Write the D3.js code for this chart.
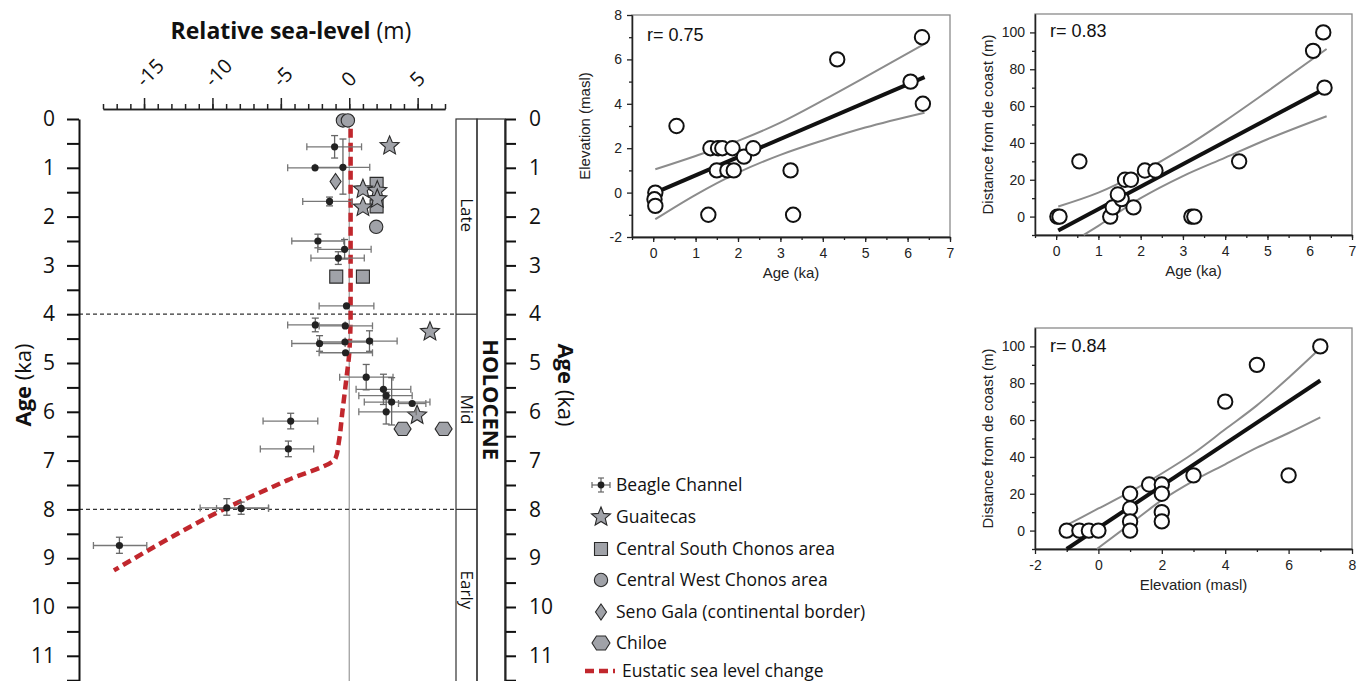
<!DOCTYPE html>
<html><head><meta charset="utf-8">
<script src="https://cdn.jsdelivr.net/npm/d3@7"></script>
<style>
body{margin:0;background:#fff;}
svg{display:block;}
</style></head>
<body>
<script>
// ---------- Left panel data ----------
const rslTicksMajor = [-15,-10,-5,0,5];
const ageTicks = [0,1,2,3,4,5,6,7,8,9,10,11];
const beagleRsl    = [-1.07,-2.5,-0.46,-1.44,-2.29,-0.34,-0.8,-0.2,-2.48,-0.29,-2.17,-0.31,1.48,-0.27,1.24,2.5,2.7,3.1,4.6,2.7,-4.28,-4.45,-8.95,-7.9,-16.8];
const beagleAge    = [0.57,1.0,0.99,1.69,2.5,2.67,2.85,3.83,4.22,4.24,4.6,4.57,4.55,4.79,5.29,5.54,5.67,5.8,5.83,6.0,6.19,6.76,7.97,7.98,8.74];
const beagleRslMin = [-3.1,-4.5,-2.5,-3.4,-4.2,-2.3,-2.8,-2.2,-4.5,-2.2,-4.2,-2.3,-0.3,-2.2,-0.7,0.5,0.7,1.1,3.6,0.7,-6.3,-6.5,-10.9,-9.7,-18.7];
const beagleRslMax = [0.9,-0.5,1.5,0.2,-0.4,1.6,1.1,1.8,-0.3,1.7,-0.3,1.7,3.5,1.7,3.2,4.5,4.6,5.9,5.6,4.9,-2.3,-2.6,-5.9,-5.9,-14.8];
const beagleAgeMin = [0.34,0.97,0.41,1.6,2.36,2.47,2.72,3.8,4.08,4.21,4.44,4.54,4.34,4.76,5.03,5.23,5.6,5.3,5.8,5.75,6.03,6.6,7.78,7.85,8.57];
const beagleAgeMax = [0.8,1.03,1.54,1.78,2.64,2.87,2.98,3.86,4.36,4.27,4.76,4.6,4.76,4.82,5.55,5.85,5.74,6.27,5.86,6.25,6.35,6.92,8.12,8.1,8.9];
const guaitecasRsl = [2.95,1.0,2.05,2.05,1.0,5.9,4.96];
const guaitecasAge = [0.55,1.44,1.47,1.64,1.81,4.36,6.07];
const centralSouthRsl = [2.0,2.0,-0.95,1.0];
const centralSouthAge = [1.33,1.79,3.23,3.23];
const centralWestRsl = [-0.46,-0.1,1.97];
const centralWestAge = [0.03,0.03,2.21];
const senoGalaRsl = [-1.0];
const senoGalaAge = [1.28];
const chiloeRsl = [3.9,6.9];
const chiloeAge = [6.35,6.35];
const eustaticRsl = [0.1,0.1,0.0,-0.2,-0.5,-0.75,-1.0,-4.5,-9.2,-13.2,-17.2];
const eustaticAge = [0.2,4.0,4.8,5.3,6.0,6.6,6.95,7.4,8.0,8.6,9.25];
const periodNames = ["Late","Mid","Early"];
const periodCenters = [1.97,5.95,9.65];
const legendLabels = ["Beagle Channel","Guaitecas","Central South Chonos area","Central West Chonos area","Seno Gala (continental border)","Chiloe","Eustatic sea level change"];

// ---------- Scatter data ----------
const s1Age  = [0.05,0.03,0.05,0.55,1.3,1.35,1.5,1.53,1.63,1.75,1.87,1.9,2.14,2.36,3.24,3.3,4.34,6.07,6.34,6.36];
const s1Elev = [0,-0.3,-0.6,3,-1,2,1,2,2,1,2,1,1.62,2,1,-1,6,5,7,4];
const s1FitX = [0.05,6.4];
const s1FitY = [0,5.2];
const s1BandX = [0.05,1,2,3,4,5,6.4];
const s1Upper = [1.05,1.65,2.33,3.15,4.15,5.2,6.7];
const s1LowX  = [0.05,1,2,3,4,5,6.4];
const s1Lower = [-1.2,-0.1,0.9,1.7,2.35,2.93,3.6];

const s2Age  = [0.03,0.08,0.55,1.28,1.34,1.55,1.46,1.63,1.77,1.83,2.1,2.35,3.2,3.27,4.33,6.08,6.32,6.35];
const s2Dist = [0,0,30,0,5,9.5,12,20,20,5,25,25,0,0,30,90,100,70];
const s2FitX = [0.05,6.4];
const s2FitY = [-7.5,70];
const s2BandX = [0.05,1,2,3,4,5,6.4];
const s2Upper = [5.5,13,24,37,52,68,91];
const s2LowX  = [0.65,1,2,3,4,5,6.4];
const s2Lower = [-10,-5,10,22,32,42,54.5];

const s3Elev = [-1,-0.6,-0.3,0,1,1,1,1,1.6,2,2,2,2,3,4,5,6,7];
const s3Dist = [0,0,0,0,20,12,5,0,25,25,20,10,5,30,70,90,30,100];
const s3FitX = [-1,7];
const s3FitY = [-10,81.5];
const s3BandX = [-1,0,1,2,3,4,5,6,7];
const s3Upper = [3,12,21,31,42,55,68,83,99];
const s3LowX  = [-0.05,1,2,3,4,5,6,7];
const s3Lower = [-10,3.5,16.5,27,36,45,53,61.5];

// ---------- Drawing ----------
const W = 1368, H = 681;
const svg = d3.select("body").append("svg").attr("width", W).attr("height", H);
const LF = "'Open Sans','Noto Sans',sans-serif";
const SF = "'Liberation Sans',Arial,sans-serif";
const GREY = "#a0a2a8", DARK = "#2a2a2a";

const xL = d3.scaleLinear().domain([-18,7]).range([103,445]);
const yL = d3.scaleLinear().domain([0,11.6]).range([119,119+48.8*11.6]);
const plotLeft = 79, boxL = 456, boxM = 477, boxR = 505;

// title
svg.append("text").attr("x",291).attr("y",39).attr("text-anchor","middle")
  .style("font-family",LF).style("font-size","23px").attr("fill","#111")
  .call(t=>{t.append("tspan").attr("font-weight","bold").text("Relative sea-level");
            t.append("tspan").text(" (m)");});

// top axis
const topY = 109;
const gMinor = svg.append("g").attr("transform",`translate(0,${topY})`)
  .call(d3.axisTop(xL).tickValues(d3.range(-18,8)).tickSize(5).tickSizeOuter(0).tickFormat(""));
const gMajor = svg.append("g").attr("transform",`translate(0,${topY})`)
  .call(d3.axisTop(xL).tickValues(rslTicksMajor).tickSize(11).tickSizeOuter(0).tickFormat(d=>String(d)));
[gMinor,gMajor].forEach(g=>{g.selectAll("path,line").attr("stroke","#222").attr("stroke-width",1.5);});
gMajor.selectAll("text").attr("text-anchor","start").attr("y",0).attr("dy",null).attr("x",0)
  .attr("transform","translate(0,-21) rotate(-45)")
  .style("font-family",LF).style("font-size","20px").attr("fill","#111");

// vertical zero line
svg.append("line").attr("x1",xL(0)).attr("x2",xL(0)).attr("y1",yL(0)).attr("y2",H)
  .attr("stroke","#999").attr("stroke-width",1.2);

// dashed period lines
[4,8].forEach(a=>{
  svg.append("line").attr("x1",plotLeft).attr("x2",boxL).attr("y1",yL(a)).attr("y2",yL(a))
    .attr("stroke","#333").attr("stroke-width",1.2).attr("stroke-dasharray","4,3");
});

// left axis
const gl = svg.append("g").attr("transform",`translate(${plotLeft},0)`)
  .call(d3.axisLeft(yL).tickValues(d3.range(0,11.51,0.5)).tickSize(12).tickPadding(12).tickSizeOuter(0)
    .tickFormat(d=>Number.isInteger(d)?String(d):""));
gl.selectAll("path,line").attr("stroke","#111").attr("stroke-width",2);
gl.selectAll("text").style("font-family",LF).style("font-size","21px").attr("fill","#111");

// right axis
const gr = svg.append("g").attr("transform",`translate(${boxR},0)`)
  .call(d3.axisRight(yL).tickValues(d3.range(0,11.51,0.5)).tickSize(11).tickPadding(13).tickSizeOuter(0)
    .tickFormat(d=>Number.isInteger(d)?String(d):""));
gr.selectAll("path,line").attr("stroke","#111").attr("stroke-width",2);
gr.selectAll("text").style("font-family",LF).style("font-size","21px").attr("fill","#111");

// axis titles
svg.append("text").attr("transform",`translate(31,${yL(5.45)}) rotate(-90)`).attr("text-anchor","middle")
  .style("font-family",LF).style("font-size","22px").attr("fill","#111")
  .call(t=>{t.append("tspan").attr("font-weight","bold").text("Age");t.append("tspan").text(" (ka)");});
svg.append("text").attr("transform",`translate(558,${yL(5.45)}) rotate(90)`).attr("text-anchor","middle")
  .style("font-family",LF).style("font-size","22px").attr("fill","#111")
  .call(t=>{t.append("tspan").attr("font-weight","bold").text("Age");t.append("tspan").text(" (ka)");});

// Holocene boxes
const boxG = svg.append("g").attr("fill","none").attr("stroke","#333").attr("stroke-width",1.2);
boxG.append("rect").attr("x",boxL).attr("y",yL(0)).attr("width",boxM-boxL).attr("height",H-yL(0)+5);
boxG.append("rect").attr("x",boxM).attr("y",yL(0)).attr("width",boxR-boxM).attr("height",H-yL(0)+5);
[4,8].forEach(a=>boxG.append("line").attr("x1",boxL).attr("x2",boxM).attr("y1",yL(a)).attr("y2",yL(a)));
periodNames.forEach((n,i)=>{
  svg.append("text").attr("transform",`translate(${(boxL+boxM)/2},${yL(periodCenters[i])}) rotate(90)`)
    .attr("text-anchor","middle").attr("dy","0.35em").style("font-family",LF).style("font-size","17px").attr("fill","#111").text(n);
});
svg.append("text").attr("transform",`translate(${(boxM+boxR)/2},${yL(5.75)}) rotate(90)`)
  .attr("text-anchor","middle").attr("dy","0.36em").style("font-family",LF).style("font-size","22px")
  .attr("font-weight","bold").attr("fill","#111").text("HOLOCENE");

// eustatic line
const eustPts = eustaticRsl.map((v,i)=>[xL(v),yL(eustaticAge[i])]);
svg.append("path").attr("d",d3.line().curve(d3.curveMonotoneY)(eustPts))
  .attr("fill","none").attr("stroke","#c1272d").attr("stroke-width",4.5).attr("stroke-dasharray","9,5");

// shape generators
function starPath(R){const r=R*0.45;let p=[];for(let k=0;k<10;k++){const a=-Math.PI/2+k*Math.PI/5;const rr=k%2?r:R;p.push([rr*Math.cos(a),rr*Math.sin(a)]);}return "M"+p.map(q=>q.join(",")).join("L")+"Z";}
function hexPath(R){let p=[];for(let k=0;k<6;k++){const a=k*Math.PI/3;p.push([R*Math.cos(a),R*Math.sin(a)*0.9]);}return "M"+p.map(q=>q.join(",")).join("L")+"Z";}
function diamondPath(w,h){return `M0,${-h}L${w},0L0,${h}L${-w},0Z`;}
function sq(s){return `M${-s},${-s}H${s}V${s}H${-s}Z`;}

function drawShapes(xs,ys,path){
  svg.append("g").selectAll("path").data(xs.map((v,i)=>[v,ys[i]])).join("path")
    .attr("transform",d=>`translate(${xL(d[0])},${yL(d[1])})`).attr("d",path)
    .attr("fill",GREY).attr("stroke",DARK).attr("stroke-width",1.1);
}
drawShapes(centralSouthRsl,centralSouthAge,sq(6.5));
drawShapes(centralWestRsl,centralWestAge,d3.symbol(d3.symbolCircle,140)());
drawShapes(senoGalaRsl,senoGalaAge,diamondPath(5.5,8));
drawShapes(chiloeRsl,chiloeAge,hexPath(8.5));
drawShapes(guaitecasRsl,guaitecasAge,starPath(10));

// Beagle channel with error bars
const bg = svg.append("g");
const bIdx = d3.range(beagleRsl.length);
bg.selectAll("line.xe").data(bIdx).join("line").attr("class","xe")
  .attr("x1",i=>xL(beagleRslMin[i])).attr("x2",i=>xL(beagleRslMax[i]))
  .attr("y1",i=>yL(beagleAge[i])).attr("y2",i=>yL(beagleAge[i])).attr("stroke","#777").attr("stroke-width",1.3);
bIdx.forEach(i=>{
  const y=yL(beagleAge[i]);
  [beagleRslMin[i],beagleRslMax[i]].forEach(v=>bg.append("line").attr("x1",xL(v)).attr("x2",xL(v)).attr("y1",y-3.5).attr("y2",y+3.5).attr("stroke","#777").attr("stroke-width",1.3));
  if(beagleAgeMax[i]-beagleAgeMin[i]>0.09){
    const x=xL(beagleRsl[i]);
    bg.append("line").attr("x1",x).attr("x2",x).attr("y1",yL(beagleAgeMin[i])).attr("y2",yL(beagleAgeMax[i])).attr("stroke","#666").attr("stroke-width",1.3);
    [beagleAgeMin[i],beagleAgeMax[i]].forEach(a=>bg.append("line").attr("x1",x-3.5).attr("x2",x+3.5).attr("y1",yL(a)).attr("y2",yL(a)).attr("stroke","#666").attr("stroke-width",1.3));
  }
});
bg.selectAll("circle").data(bIdx).join("circle").attr("cx",i=>xL(beagleRsl[i])).attr("cy",i=>yL(beagleAge[i]))
  .attr("r",3.6).attr("fill","#222");

// ---------- Legend ----------
const legX = 601, legTX = 616;
const legY = [485,517,549,580,612,643,671];
const lg = svg.append("g");
legendLabels.forEach((t,i)=>{
  lg.append("text").attr("x", i===6?622:legTX).attr("y",legY[i]).attr("dy","0.35em")
    .style("font-family",LF).style("font-size","17.5px").attr("fill","#111").text(t);
});
// beagle icon
lg.append("line").attr("x1",592).attr("x2",610).attr("y1",legY[0]).attr("y2",legY[0]).attr("stroke","#666").attr("stroke-width",1.2);
[592,610].forEach(x=>lg.append("line").attr("x1",x).attr("x2",x).attr("y1",legY[0]-3).attr("y2",legY[0]+3).attr("stroke","#666").attr("stroke-width",1.2));
lg.append("line").attr("x1",legX).attr("x2",legX).attr("y1",legY[0]-7).attr("y2",legY[0]+7).attr("stroke","#666").attr("stroke-width",1.2);
[-7,7].forEach(d=>lg.append("line").attr("x1",legX-3).attr("x2",legX+3).attr("y1",legY[0]+d).attr("y2",legY[0]+d).attr("stroke","#666").attr("stroke-width",1.2));
lg.append("circle").attr("cx",legX).attr("cy",legY[0]).attr("r",3.4).attr("fill","#222");
const legShapes=[starPath(10),sq(6.5),d3.symbol(d3.symbolCircle,140)(),diamondPath(5.5,8),hexPath(9)];
legShapes.forEach((p,k)=>lg.append("path").attr("d",p).attr("transform",`translate(${legX},${legY[k+1]})`)
  .attr("fill",GREY).attr("stroke",DARK).attr("stroke-width",1.1));
lg.append("line").attr("x1",585).attr("x2",615).attr("y1",legY[6]).attr("y2",legY[6])
  .attr("stroke","#c1272d").attr("stroke-width",4.5).attr("stroke-dasharray","9,5");

// ---------- Scatter plots ----------
function scatter(c){
  const x=d3.scaleLinear().domain(c.xDom).range([c.l,c.r]);
  const y=d3.scaleLinear().domain(c.yDom).range([c.b,c.t]);
  const g=svg.append("g");
  g.append("rect").attr("x",c.l).attr("y",c.t).attr("width",c.r-c.l).attr("height",c.b-c.t)
    .attr("fill","none").attr("stroke","#8a8a8a").attr("stroke-width",1.3);
  const ax=[
    g.append("g").attr("transform",`translate(0,${c.b})`).call(d3.axisBottom(x).tickValues(c.xMinor).tickSize(3).tickSizeOuter(0).tickFormat("")),
    g.append("g").attr("transform",`translate(0,${c.b})`).call(d3.axisBottom(x).tickValues(c.xMajor).tickSize(5).tickPadding(6).tickSizeOuter(0).tickFormat(d=>String(d))),
    g.append("g").attr("transform",`translate(${c.l},0)`).call(d3.axisLeft(y).tickValues(c.yMinor).tickSize(3).tickSizeOuter(0).tickFormat("")),
    g.append("g").attr("transform",`translate(${c.l},0)`).call(d3.axisLeft(y).tickValues(c.yMajor).tickSize(5).tickPadding(5).tickSizeOuter(0).tickFormat(d=>String(d)))
  ];
  ax.forEach(a=>{a.selectAll("path,line").attr("stroke","#222").attr("stroke-width",1.3);
    a.selectAll("text").style("font-family",SF).style("font-size","14px").attr("fill","#222");});
  const ln=d3.line().curve(d3.curveMonotoneX);
  g.append("path").attr("d",ln(c.bandX.map((v,i)=>[x(v),y(c.upper[i])]))).attr("fill","none").attr("stroke","#8c8c8c").attr("stroke-width",2);
  g.append("path").attr("d",ln(c.lowX.map((v,i)=>[x(v),y(c.lower[i])]))).attr("fill","none").attr("stroke","#8c8c8c").attr("stroke-width",2);
  g.append("path").attr("d",d3.line()(c.fitX.map((v,i)=>[x(v),y(c.fitY[i])]))).attr("fill","none").attr("stroke","#111").attr("stroke-width",4);
  g.selectAll("circle.pt").data(c.xs.map((v,i)=>[v,c.ys[i]])).join("circle").attr("class","pt")
    .attr("cx",d=>x(d[0])).attr("cy",d=>y(d[1])).attr("r",7.2).attr("fill","#fff").attr("stroke","#111").attr("stroke-width",2);
  g.append("text").attr("x",c.l+15).attr("y",c.t+c.rDy).style("font-family",SF).style("font-size","18px").attr("fill","#111").text(c.rText);
  g.append("text").attr("x",(c.l+c.r)/2).attr("y",c.b+41).attr("text-anchor","middle")
    .style("font-family",SF).style("font-size","15px").attr("fill","#222").text(c.xLabel);
  g.append("text").attr("transform",`translate(${c.l-42},${(c.t+c.b)/2}) rotate(-90)`).attr("text-anchor","middle")
    .style("font-family",SF).style("font-size","15px").attr("fill","#222").text(c.yLabel);
}
scatter({l:632,r:950,t:15,b:237,xDom:[-0.5,7],yDom:[-2,8],
  xMajor:[0,1,2,3,4,5,6,7],xMinor:d3.range(-0.5,7.01,0.5),yMajor:[-2,0,2,4,6,8],yMinor:[-1,1,3,5,7],
  xs:s1Age,ys:s1Elev,fitX:s1FitX,fitY:s1FitY,bandX:s1BandX,upper:s1Upper,lowX:s1LowX,lower:s1Lower,
  rText:"r= 0.75",rDy:26,xLabel:"Age (ka)",yLabel:"Elevation (masl)"});
scatter({l:1035,r:1352,t:14,b:235,xDom:[-0.5,7],yDom:[-10,110],
  xMajor:[0,1,2,3,4,5,6,7],xMinor:d3.range(-0.5,7.01,0.5),yMajor:[0,20,40,60,80,100],yMinor:[-10,10,30,50,70,90],
  xs:s2Age,ys:s2Dist,fitX:s2FitX,fitY:s2FitY,bandX:s2BandX,upper:s2Upper,lowX:s2LowX,lower:s2Lower,
  rText:"r= 0.83",rDy:23,xLabel:"Age (ka)",yLabel:"Distance from de coast (m)"});
scatter({l:1035,r:1352,t:328,b:549,xDom:[-2,8],yDom:[-10,110],
  xMajor:[-2,0,2,4,6,8],xMinor:[-1,1,3,5,7],yMajor:[0,20,40,60,80,100],yMinor:[-10,10,30,50,70,90],
  xs:s3Elev,ys:s3Dist,fitX:s3FitX,fitY:s3FitY,bandX:s3BandX,upper:s3Upper,lowX:s3LowX,lower:s3Lower,
  rText:"r= 0.84",rDy:24,xLabel:"Elevation (masl)",yLabel:"Distance from de coast (m)"});
</script>
</body></html>
